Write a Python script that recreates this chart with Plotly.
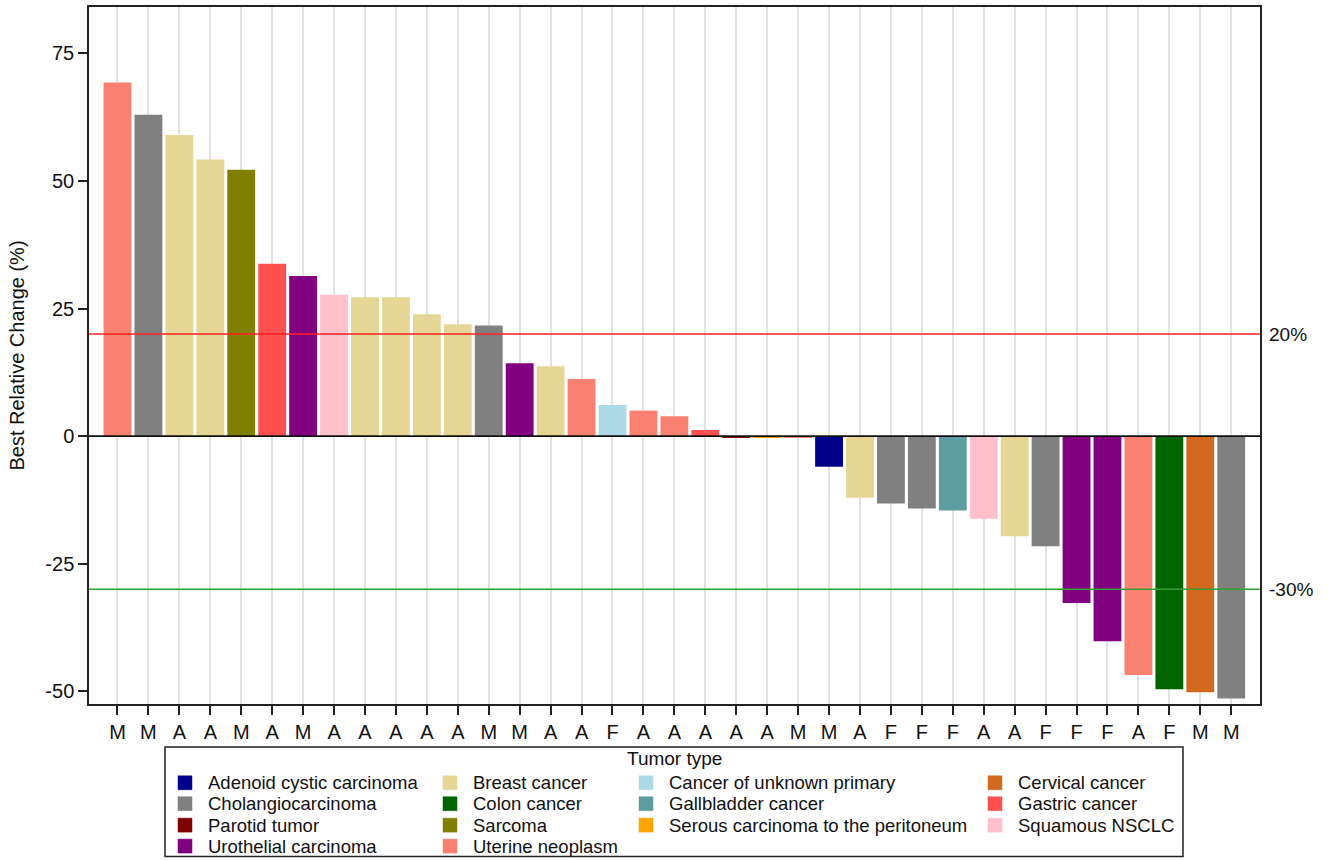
import plotly.graph_objects as go

# Per-patient data, ordered as plotted (best change, descending)
patient_labels = ["M", "M", "A", "A", "M", "A", "M", "A", "A", "A", "A", "A", "M", "M", "A", "A", "F",
                  "A", "A", "A", "A", "A", "M", "M", "A", "F", "F", "F", "A", "A", "F", "F", "F", "A",
                  "F", "M", "M"]
best_change = [69.3, 63.0, 59.0, 54.2, 52.2, 33.8, 31.4, 27.7, 27.2, 27.2, 23.9, 21.9, 21.7, 14.3,
               13.7, 11.2, 6.1, 5.0, 3.9, 1.2, -0.3, -0.2, -0.2, -6.0, -12.1, -13.2, -14.2, -14.6,
               -16.2, -19.6, -21.6, -32.7, -40.2, -46.8, -49.6, -50.2, -51.4]
tumor_type = [
    "Uterine neoplasm", "Cholangiocarcinoma", "Breast cancer", "Breast cancer", "Sarcoma",
    "Gastric cancer", "Urothelial carcinoma", "Squamous NSCLC", "Breast cancer", "Breast cancer",
    "Breast cancer", "Breast cancer", "Cholangiocarcinoma", "Urothelial carcinoma", "Breast cancer",
    "Uterine neoplasm", "Cancer of unknown primary", "Uterine neoplasm", "Uterine neoplasm",
    "Gastric cancer", "Parotid tumor", "Serous carcinoma to the peritoneum", "Uterine neoplasm",
    "Adenoid cystic carcinoma", "Breast cancer", "Cholangiocarcinoma", "Cholangiocarcinoma",
    "Gallbladder cancer", "Squamous NSCLC", "Breast cancer", "Cholangiocarcinoma",
    "Urothelial carcinoma", "Urothelial carcinoma", "Uterine neoplasm", "Colon cancer",
    "Cervical cancer", "Cholangiocarcinoma",
]

# Legend categories (alphabetical) and their fill colours
type_names = ["Adenoid cystic carcinoma", "Breast cancer", "Cancer of unknown primary",
              "Cervical cancer", "Cholangiocarcinoma", "Colon cancer", "Gallbladder cancer",
              "Gastric cancer", "Parotid tumor", "Sarcoma", "Serous carcinoma to the peritoneum",
              "Squamous NSCLC", "Urothelial carcinoma", "Uterine neoplasm"]
type_colors = ["#00008B", "#E6D696", "#ADD8E6", "#D2691E", "#808080", "#006400", "#5F9EA0",
               "#FF5050", "#800000", "#808000", "#FFA500", "#FFC0CB", "#800080", "#FA8072"]

# Y axis ticks (plain hyphen for negatives)
y_ticks = [-50, -25, 0, 25, 50, 75]
y_tick_text = ["-50", "-25", "0", "25", "50", "75"]

# Response thresholds
thresholds = [20, -30]
threshold_colors = ["#FF2020", "#33A033"]
threshold_labels = ["20%", "-30%"]

FONT = "Liberation Sans, Arial, sans-serif"
W, H = 1327, 861
ML, MR, MT, MB = 89, 67, 5, 157
PW, PH = W - ML - MR, H - MT - MB

positions = list(range(1, len(best_change) + 1))

fig = go.Figure()
for name, color in zip(type_names, type_colors):
    xs = [p for p, t in zip(positions, tumor_type) if t == name]
    ys = [v for v, t in zip(best_change, tumor_type) if t == name]
    fig.add_trace(go.Bar(x=xs, y=ys, name=name, width=0.9,
                         marker=dict(color=color, line=dict(width=0)),
                         showlegend=False))

shapes = [dict(type="line", xref="paper", yref="y", x0=0, x1=1, y0=0, y1=0,
               line=dict(color="#111111", width=1.6), layer="above")]
annotations = []
for yv, col, lab in zip(thresholds, threshold_colors, threshold_labels):
    shapes.append(dict(type="line", xref="paper", yref="y", x0=0, x1=1, y0=yv, y1=yv,
                       line=dict(color=col, width=1.6), layer="above"))
    annotations.append(dict(x=1, y=yv, xref="paper", yref="y", text=lab, showarrow=False,
                            xanchor="left", yanchor="middle", xshift=7,
                            font=dict(family=FONT, size=19, color="#111111")))


# Pixel -> paper helpers for the legend panel below the plot
def px_x(px):
    return (px - ML) / PW


def px_y(py):
    return (H - MB - py) / PH


# Legend panel drawn as a 4-column grid
shapes.append(dict(type="rect", xref="paper", yref="paper",
                   x0=px_x(165), x1=px_x(1183), y0=px_y(747), y1=px_y(857),
                   line=dict(color="#222222", width=1.5), fillcolor="rgba(0,0,0,0)"))
annotations.append(dict(x=px_x(674), y=px_y(759), xref="paper", yref="paper", text="Tumor type",
                        showarrow=False, xanchor="center", yanchor="middle",
                        font=dict(family=FONT, size=19, color="#111111")))
col_swatch = [178, 443, 639, 988]
row_center = [783, 804, 825.5, 846.5]
for i, (name, color) in enumerate(zip(type_names, type_colors)):
    r, c = divmod(i, 4)
    sx, cy = col_swatch[c], row_center[r]
    shapes.append(dict(type="rect", xref="paper", yref="paper",
                       x0=px_x(sx), x1=px_x(sx + 14), y0=px_y(cy - 7), y1=px_y(cy + 7),
                       line=dict(color=color, width=0.5), fillcolor=color))
    annotations.append(dict(x=px_x(sx + 28), y=px_y(cy), xref="paper", yref="paper", text=name,
                            showarrow=False, xanchor="left", yanchor="middle",
                            font=dict(family=FONT, size=18.5, color="#111111")))

fig.update_layout(
    width=W, height=H,
    margin=dict(l=ML, r=MR, t=MT, b=MB, pad=0),
    paper_bgcolor="white", plot_bgcolor="white",
    font=dict(family=FONT, size=19, color="#111111"),
    bargap=0.1,
    shapes=shapes, annotations=annotations,
    showlegend=False,
)
fig.update_xaxes(
    range=[0.079, 37.93], tickmode="array", tickvals=positions, ticktext=patient_labels,
    showgrid=True, gridcolor="#E2E2E2", gridwidth=1.5, zeroline=False,
    ticks="outside", ticklen=9, tickwidth=1.5, tickcolor="#222222",
    showline=True, linecolor="#222222", linewidth=1.5, mirror=True,
    tickfont=dict(family=FONT, size=20, color="#111111"),
)
fig.update_yaxes(
    range=[-52.5, 84.1], tickmode="array", tickvals=y_ticks, ticktext=y_tick_text,
    showgrid=False, zeroline=False,
    ticks="outside", ticklen=9, tickwidth=1.5, tickcolor="#222222",
    showline=True, linecolor="#222222", linewidth=1.5, mirror=True,
    tickfont=dict(family=FONT, size=20, color="#111111"),
    title=dict(text="Best Relative Change (%)", font=dict(family=FONT, size=20, color="#111111"),
               standoff=15),
)

fig.write_html("out.html")
